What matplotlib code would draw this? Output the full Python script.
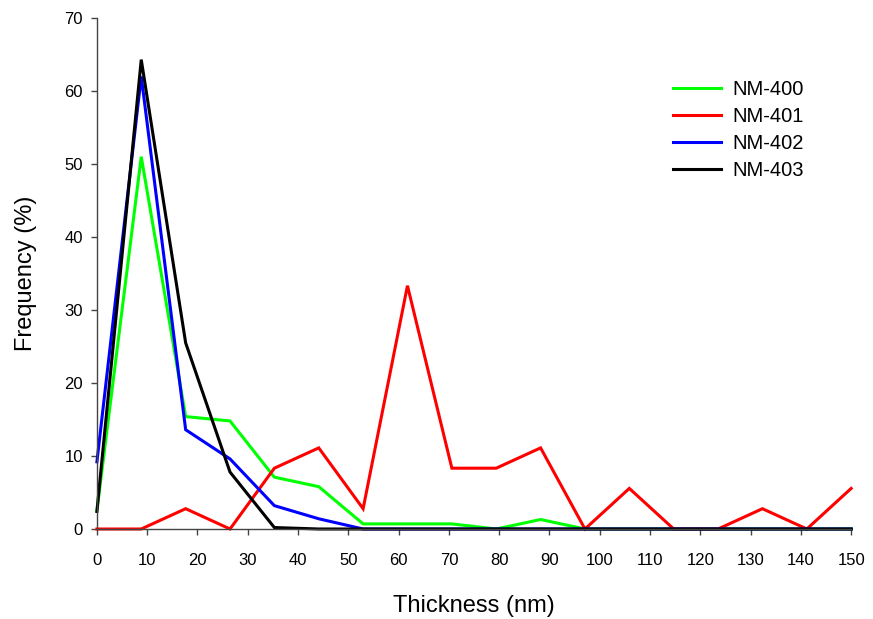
import matplotlib
matplotlib.use("Agg")
import matplotlib.pyplot as plt
import numpy as np

plt.rcParams['font.family'] = ['Liberation Sans', 'DejaVu Sans']

thickness = [0, 8.82, 17.65, 26.47, 35.29, 44.12, 52.94, 61.76, 70.59, 79.41,
             88.24, 97.06, 105.88, 114.71, 123.53, 132.35, 141.18, 150]
nm400 = [2.5, 51.0, 15.4, 14.8, 7.1, 5.8, 0.7, 0.7, 0.7, 0.0, 1.3, 0, 0, 0, 0, 0, 0, 0]
nm401 = [0, 0, 2.78, 0, 8.33, 11.11, 2.78, 33.33, 8.33, 8.33, 11.11, 0, 5.56, 0, 0, 2.78, 0, 5.56]
nm402 = [9.2, 62.0, 13.6, 9.6, 3.2, 1.4, 0, 0, 0, 0, 0, 0, 0, 0, 0, 0, 0, 0]
nm403 = [2.4, 64.3, 25.5, 7.8, 0.2, 0, 0, 0, 0, 0, 0, 0, 0, 0, 0, 0, 0, 0]
labels = ['NM-400', 'NM-401', 'NM-402', 'NM-403']
colors = ['#00ff00', '#ff0000', '#0000ff', '#000000']

fig = plt.figure(figsize=(8.73, 6.19), dpi=100)
ax = fig.add_axes([0.111, 0.1454, 0.864, 0.8255])
for ys, lab, c in zip([nm400, nm401, nm402, nm403], labels, colors):
    ax.plot(thickness, ys, color=c, lw=2.2, label=lab, clip_on=False,
            solid_joinstyle='miter')

ax.set_xlim(0, 150)
ax.set_ylim(0, 70)
ax.set_xticks(np.arange(0, 151, 10))
ax.set_yticks(np.arange(0, 71, 10))
for s in ['top', 'right']:
    ax.spines[s].set_visible(False)
for s in ['left', 'bottom']:
    ax.spines[s].set_color('#444444')
    ax.spines[s].set_linewidth(1.0)
ax.tick_params(direction='out', length=4, width=1, colors='#444444', labelsize=12,
               labelcolor='black')
ax.tick_params(axis='x', pad=13)
ax.tick_params(axis='y', pad=6)
ax.set_xlabel('Thickness (nm)', fontsize=17, labelpad=20)
ax.set_ylabel('Frequency (%)', fontsize=17, labelpad=20)
ax.legend(loc='upper left', bbox_to_anchor=(0.74, 0.914), frameon=False, fontsize=14.5,
          handlelength=2.35, handletextpad=0.6, labelspacing=0.4)
fig.savefig('out.png', dpi=100)
